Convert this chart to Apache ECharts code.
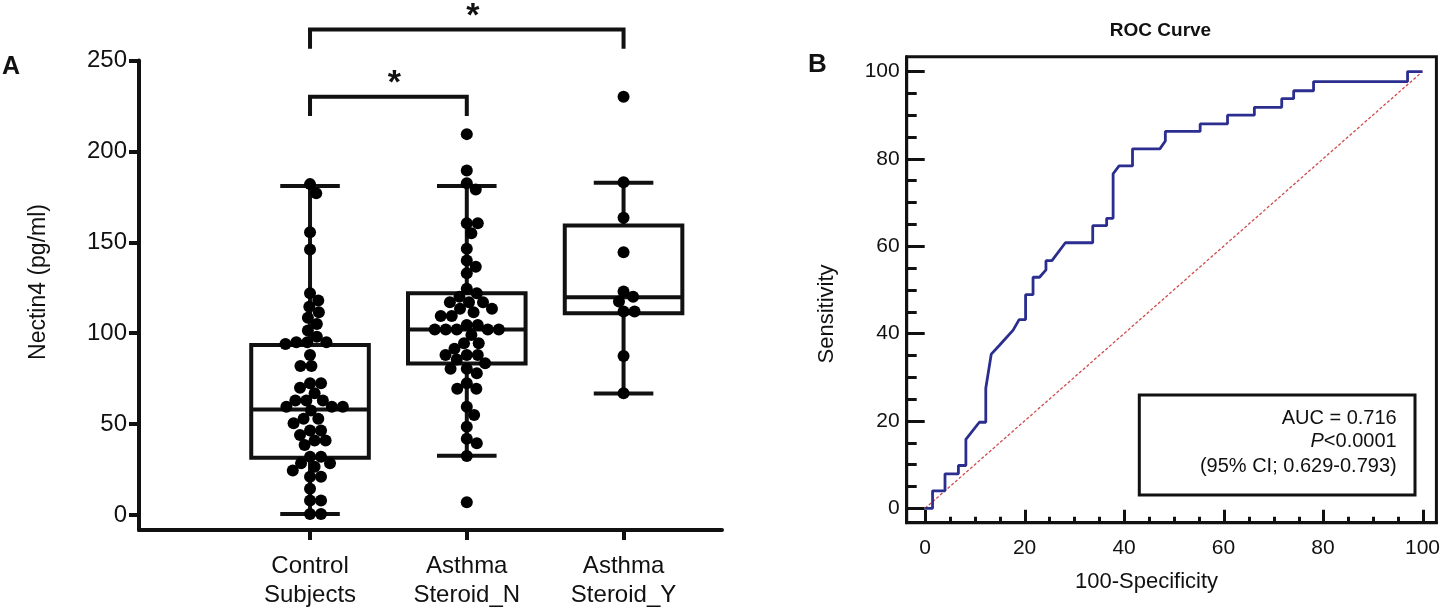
<!DOCTYPE html>
<html lang="en">
<head>
<meta charset="UTF-8">
<title>Nectin4 and ROC</title>
<script src="https://cdn.jsdelivr.net/npm/echarts@6.0.0/dist/echarts.min.js"></script>
<style>html,body{margin:0;padding:0;background:#fff;}</style>
</head>
<body>
<div id="main" style="width:1443px;height:612px;"></div>
<script type="text/javascript">
// ---- panel A : Nectin4 per group ----
var groups = ['Control\nSubjects', 'Asthma\nSteroid_N', 'Asthma\nSteroid_Y'];
var controlVals = [182, 177, 155.5, 146, 122, 118, 114.5, 111.5, 108.5, 105, 101.5, 98, 95, 95, 95, 94,
    88, 82, 82, 72.5, 72.5, 70, 67, 63, 63, 63, 59.5, 59.5, 59.5, 57.5, 53, 53, 50.5, 46.5, 46.5, 44,
    41, 41, 38.5, 32, 32, 28.5, 28.5, 26.5, 24.5, 21, 21, 14.5, 8, 8, 0.5, 0.5];
var steroidNVals = [209.5, 189.5, 182.5, 179, 160.5, 160.5, 155, 146.5, 140, 136.5, 133, 124.5, 122, 120,
    117, 117, 117, 113.5, 113.5, 111.5, 109.5, 109.5, 104.5, 104.5, 102, 102, 102, 102, 102, 99,
    94.5, 94.5, 91.5, 88, 88, 88, 85.5, 83.5, 80.5, 80.5, 78, 72.5, 69.5, 69.5, 59.5, 55, 48.5, 42,
    39.5, 32.5, 7];
var steroidYVals = [230, 183, 163.5, 144.5, 123, 120, 117.5, 112, 112, 87.5, 67];
// whisker low, Q1, median, Q3, whisker high
var boxStats = [
    [0.5, 31.5, 58.1, 93.5, 181],
    [32.6, 83.4, 102.1, 122, 181],
    [66.9, 111, 119.8, 159.3, 182.8]
];
var groupTicks = [0, 1, 2];
var yTicksA = [0, 50, 100, 150, 200, 250];
// significance brackets: from group, to group, bar value, end of the legs
var brackets = [[0, 2, 267, 256.5], [0, 1, 230, 219.5]];

// ---- panel B : ROC ----
var rocX = [0, 1.5, 1.5, 4, 4, 6.7, 6.7, 8.2, 8.2, 10.9, 12.2, 12.2, 13.3, 15, 17.7, 18.9, 20.2, 20.2,
    21.7, 21.7, 23, 24.3, 24.3, 25.5, 28.2, 33.7, 33.7, 36.5, 36.5, 37.8, 37.8, 39, 41.7, 41.7, 47.2,
    48.3, 48.3, 55.3, 55.3, 60.8, 60.8, 66.2, 66.2, 71.7, 71.7, 74.1, 74.1, 78.1, 78.1, 97, 97, 100];
var rocY = [0, 0, 4, 4, 7.9, 7.9, 9.8, 9.8, 15.8, 19.7, 19.7, 27.5, 35.3, 37.4, 40.8, 43.2, 43.2, 48.9,
    48.9, 52.9, 52.9, 54.6, 56.7, 56.7, 60.8, 60.8, 64.7, 64.7, 66.4, 66.4, 76.6, 78.4, 78.4, 82.3, 82.3,
    84.1, 86.3, 86.3, 88, 88, 90, 90, 91.8, 91.8, 93.8, 93.8, 95.6, 95.6, 97.7, 97.7, 100, 100];
var refX = [0, 100];
var refY = [0, 100];
var ticksB = [0, 20, 40, 60, 80, 100];
var minorB = [5, 10, 15, 25, 30, 35, 45, 50, 55, 65, 70, 75, 85, 90, 95];
var statLines = ['AUC = 0.716', '{i|P}<0.0001', '(95% CI; 0.629-0.793)'];

var FONT = '"Liberation Sans", Arial, sans-serif';
var INK = '#111';

var boxData = boxStats.map(function (s, i) { return [i].concat(s); });
var rocData = rocX.map(function (x, i) { return [x, rocY[i]]; });
var refData = refX.map(function (x, i) { return [x, refY[i]]; });

var gridA = { left: 139, top: 60.5, width: 583, height: 469.5 };
var gridB = { left: 906.7, top: 56.7, width: 530.6, height: 466 };
var rangeAX = [-1.091, 2.628], rangeAY = [-8.25, 250];
var rangeBX = [-3.7, 102.8], rangeBY = [-3.3, 103.4];

// axis that only draws ticks (overlay grids)
function tickAxis(grid, range, values, len, inside, width) {
    return {
        gridIndex: grid, type: 'value', min: range[0], max: range[1],
        axisLine: { show: false, onZero: false },
        axisTick: { show: true, inside: inside, customValues: values, length: len,
            lineStyle: { color: INK, width: width } },
        axisLabel: { show: false },
        splitLine: { show: false }
    };
}

function renderBox(params, api) {
    var x = api.value(0);
    var lo = api.coord([x, api.value(1)]);
    var q1 = api.coord([x, api.value(2)]);
    var md = api.coord([x, api.value(3)]);
    var q3 = api.coord([x, api.value(4)]);
    var hi = api.coord([x, api.value(5)]);
    var bw = api.size([0.75, 0])[0];
    var cw = api.size([0.38, 0])[0];
    var cx = md[0];
    var st = { stroke: INK, lineWidth: 4, fill: 'none' };
    return {
        type: 'group',
        children: [
            { type: 'line', shape: { x1: cx, y1: hi[1], x2: cx, y2: q3[1] }, style: st },
            { type: 'line', shape: { x1: cx, y1: q1[1], x2: cx, y2: lo[1] }, style: st },
            { type: 'line', shape: { x1: cx - cw / 2, y1: hi[1], x2: cx + cw / 2, y2: hi[1] }, style: st },
            { type: 'line', shape: { x1: cx - cw / 2, y1: lo[1], x2: cx + cw / 2, y2: lo[1] }, style: st },
            { type: 'rect', shape: { x: cx - bw / 2, y: q3[1], width: bw, height: q1[1] - q3[1] }, style: st },
            { type: 'line', shape: { x1: cx - bw / 2, y1: md[1], x2: cx + bw / 2, y2: md[1] }, style: st }
        ]
    };
}

function renderBracket(params, api) {
    var a = api.coord([api.value(0), api.value(3)]);
    var b = api.coord([api.value(0), api.value(2)]);
    var c = api.coord([api.value(1), api.value(2)]);
    var d = api.coord([api.value(1), api.value(3)]);
    return {
        type: 'group',
        children: [
            { type: 'polyline', shape: { points: [a, b, c, d] },
              style: { stroke: INK, lineWidth: 4, fill: 'none' } },
            { type: 'text', style: { text: '*', x: (b[0] + c[0]) / 2 + 6, y: b[1] - 13,
              align: 'center', verticalAlign: 'middle', fill: INK,
              font: 'bold 34px ' + FONT } }
        ]
    };
}

var option = {
    animation: false,
    backgroundColor: '#fff',
    grid: [
        gridA,
        Object.assign({ show: true, borderColor: INK, borderWidth: 3 }, gridB),
        gridB,
        gridA,
        gridB
    ],
    xAxis: [
        {
            gridIndex: 0, type: 'value', min: rangeAX[0], max: rangeAX[1],
            axisLine: { onZero: false, lineStyle: { color: INK, width: 4 } },
            axisTick: { show: false },
            axisLabel: { customValues: groupTicks, formatter: function (v) { return groups[Math.round(v)]; },
                color: INK, fontSize: 24, lineHeight: 29, margin: 22, fontFamily: FONT },
            splitLine: { show: false }
        },
        {
            gridIndex: 1, type: 'value', min: rangeBX[0], max: rangeBX[1],
            axisLine: { onZero: false, lineStyle: { color: INK, width: 3 } },
            axisTick: { show: false },
            axisLabel: { customValues: ticksB, color: INK, fontSize: 21, margin: 15, fontFamily: FONT },
            splitLine: { show: false }
        },
        tickAxis(2, rangeBX, minorB, 6, true, 3),
        tickAxis(3, rangeAX, groupTicks, 10, false, 4),
        tickAxis(4, rangeBX, ticksB, 13, true, 3)
    ],
    yAxis: [
        {
            gridIndex: 0, type: 'value', min: rangeAY[0], max: rangeAY[1],
            axisLine: { show: true, onZero: false, lineStyle: { color: INK, width: 4 } },
            axisTick: { show: false },
            axisLabel: { customValues: yTicksA, color: INK, fontSize: 24, margin: 12, fontFamily: FONT },
            splitLine: { show: false }
        },
        {
            gridIndex: 1, type: 'value', min: rangeBY[0], max: rangeBY[1],
            axisLine: { show: true, onZero: false, lineStyle: { color: INK, width: 3 } },
            axisTick: { show: false },
            axisLabel: { customValues: ticksB, color: INK, fontSize: 21, margin: 7, fontFamily: FONT },
            splitLine: { show: false }
        },
        tickAxis(2, rangeBY, minorB, 10, true, 3),
        tickAxis(3, rangeAY, yTicksA, 10, false, 4),
        tickAxis(4, rangeBY, ticksB, 18, true, 3)
    ],
    series: [
        { type: 'custom', xAxisIndex: 0, yAxisIndex: 0, renderItem: renderBox, data: boxData,
          encode: { x: 0, y: [1, 2, 3, 4, 5] }, z: 2 },
        { id: 'dots', type: 'scatter', xAxisIndex: 0, yAxisIndex: 0, symbolSize: 12,
          itemStyle: { color: '#000', opacity: 1 }, data: [], z: 3 },
        { type: 'custom', xAxisIndex: 0, yAxisIndex: 0, renderItem: renderBracket, data: brackets,
          encode: { x: [0, 1], y: [2, 3] }, clip: false, z: 4 },
        { type: 'line', xAxisIndex: 1, yAxisIndex: 1, data: refData, showSymbol: false,
          lineStyle: { color: '#d24a4a', width: 1.3, type: [3, 2] }, z: 2 },
        { type: 'line', xAxisIndex: 1, yAxisIndex: 1, data: rocData, showSymbol: false,
          lineStyle: { color: '#2b2e8e', width: 2.8 }, z: 3 }
    ],
    graphic: [
        { type: 'text', left: 2, top: 55, style: { text: 'A', font: 'bold 25px ' + FONT, fill: INK } },
        { type: 'text', left: 808, top: 52, style: { text: 'B', font: 'bold 26px ' + FONT, fill: INK } },
        { type: 'text', x: 1160.5, y: 30.5, style: { text: 'ROC Curve', font: 'bold 19px ' + FONT,
          fill: INK, align: 'center', verticalAlign: 'middle' } },
        { type: 'text', x: 38.6, y: 282, rotation: Math.PI / 2, style: { text: 'Nectin4 (pg/ml)',
          font: '23px ' + FONT, fill: INK, align: 'center', verticalAlign: 'middle' } },
        { type: 'text', x: 826.6, y: 314, rotation: Math.PI / 2, style: { text: 'Sensitivity',
          font: '22px ' + FONT, fill: INK, align: 'center', verticalAlign: 'middle' } },
        { type: 'text', x: 1146.5, y: 581.6, style: { text: '100-Specificity',
          font: '22px ' + FONT, fill: INK, align: 'center', verticalAlign: 'middle' } },
        { type: 'rect', shape: { x: 1139.3, y: 395, width: 275.7, height: 100 },
          style: { fill: '#fff', stroke: INK, lineWidth: 3 }, z: 10 },
        { type: 'text', x: 1396.7, y: 418.3, z: 11, style: { text: statLines[0], font: '20px ' + FONT,
          fill: INK, align: 'right', verticalAlign: 'middle' } },
        { type: 'text', x: 1396.7, y: 441.7, z: 11, style: { text: statLines[1], font: '20px ' + FONT,
          fill: INK, align: 'right', verticalAlign: 'middle',
          rich: { i: { fontStyle: 'italic', fontSize: 20, fontFamily: FONT, fill: INK } } } },
        { type: 'text', x: 1396.7, y: 466, z: 11, style: { text: statLines[2], font: '20px ' + FONT,
          fill: INK, align: 'right', verticalAlign: 'middle' } }
    ]
};

var chart = echarts.init(document.getElementById('main'));
chart.setOption(option);

// simple beeswarm: nearest free spot to the group centre, in pixels
function swarm(vals, cat) {
    var d = 11;
    var ref = { xAxisIndex: 0, yAxisIndex: 0 };
    var x0 = chart.convertToPixel(ref, [cat, 0])[0];
    var unit = chart.convertToPixel(ref, [cat + 1, 0])[0] - x0;
    var sorted = vals.slice().sort(function (a, b) { return b - a; });
    var placed = [];
    var out = [];
    sorted.forEach(function (v) {
        var py = chart.convertToPixel(ref, [cat, v])[1];
        var cands = [0];
        placed.forEach(function (p) {
            var dy = Math.abs(p.y - py);
            if (dy < d) {
                var dx = Math.sqrt(d * d - dy * dy);
                cands.push(p.x + dx, p.x - dx);
            }
        });
        cands.sort(function (a, b) { return Math.abs(a) - Math.abs(b); });
        var px = 0;
        for (var k = 0; k < cands.length; k++) {
            var ok = placed.every(function (p) {
                return Math.sqrt((p.x - cands[k]) * (p.x - cands[k]) + (p.y - py) * (p.y - py)) >= d - 0.01;
            });
            if (ok) { px = cands[k]; break; }
        }
        placed.push({ x: px, y: py });
        out.push([cat + px / unit, v]);
    });
    return out;
}

var dots = swarm(controlVals, 0).concat(swarm(steroidNVals, 1), swarm(steroidYVals, 2));
chart.setOption({ series: [{ id: 'dots', data: dots }] });
</script>
</body>
</html>
